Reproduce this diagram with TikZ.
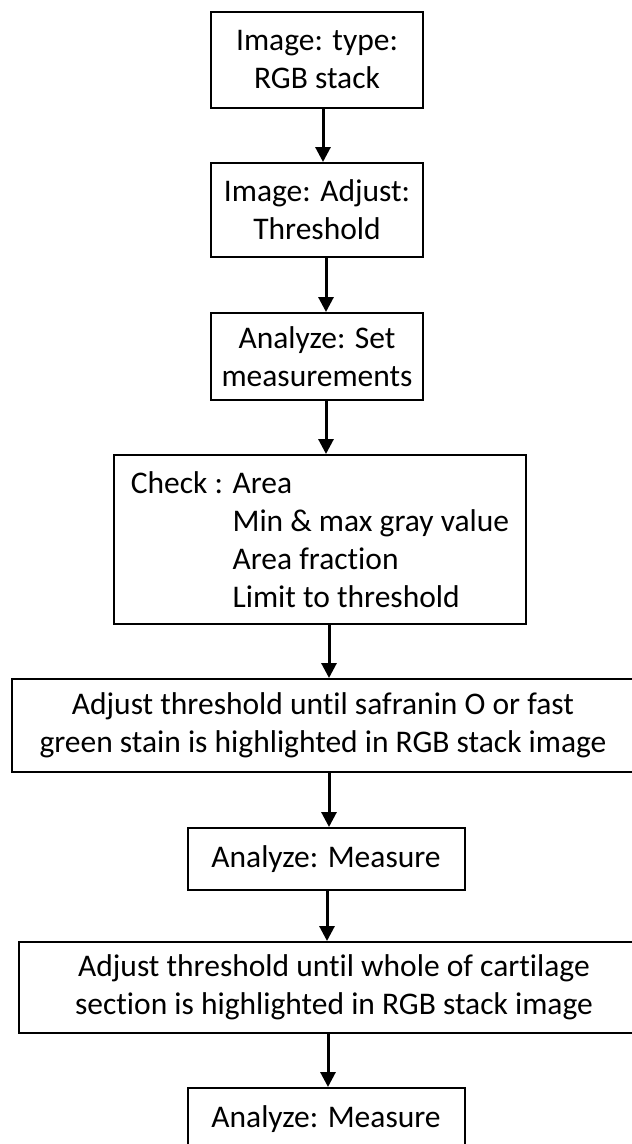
\documentclass[tikz,border=0pt]{standalone}
\usepackage{fontspec}
\setmainfont{Carlito}[Ligatures=NoCommon]
\usetikzlibrary{arrows.meta}

\begin{document}
\begin{tikzpicture}[x=1pt, y=1pt,
            box/.style = {draw, line width=2pt, align=center, inner sep=0pt, font=\fontsize{31.5}{38}\selectfont},
            flow/.style = {line width=3pt, -{Triangle[width=15pt, length=15pt]}},
            ]
            \useasboundingbox (0,0) rectangle (632,-1144);
            \fill[white] (0,0) rectangle (632,-1144);
            \clip (0,0) rectangle (632,-1144);

            \node[box, minimum width=212, minimum height=96]   (B1) at (317, -60)    {Image: type:\\RGB stack};
            \node[box, minimum width=212, minimum height=94]   (B2) at (317, -210)   {Image: Adjust:\\Threshold};
            \node[box, minimum width=212, minimum height=87]   (B3) at (317, -356.5) {Analyze: Set\\measurements};
            \node[box, minimum width=412, minimum height=169, align=left] (B4) at (320, -539.5)
                {Check : Area\\\phantom{Check : }Min \& max gray value\\\phantom{Check : }Area fraction\\\phantom{Check : }Limit to threshold};
            \node[box, minimum width=622, minimum height=93]   (B5) at (323, -725.5)
                {Adjust threshold until safranin O or fast\\green stain is highlighted in RGB stack image};
            \node[box, minimum width=277, minimum height=62]   (B6) at (326, -859)   {Analyze: Measure};
            \node[box, minimum width=630, minimum height=91]   (B7) at (334, -987.5)
                {Adjust threshold until whole of cartilage\\section is highlighted in RGB stack image};
            \node[box, minimum width=277, minimum height=62]   (B8) at (326, -1119)  {Analyze: Measure};

            \draw[flow] ([xshift=6]B1.south) -- ([xshift=6]B1.south |- B2.north);
            \draw[flow] ([xshift=9]B2.south) -- ([xshift=9]B2.south |- B3.north);
            \draw[flow] ([xshift=9]B3.south) -- ([xshift=9]B3.south |- B4.north);
            \draw[flow] ([xshift=9]B4.south) -- ([xshift=9]B4.south |- B5.north);
            \draw[flow] ([xshift=6]B5.south) -- ([xshift=6]B5.south |- B6.north);
            \draw[flow] ([xshift=1]B6.south) -- ([xshift=1]B6.south |- B7.north);
            \draw[flow] ([xshift=2]B8.north |- B7.south) -- ([xshift=2]B8.north);
        \end{tikzpicture}
\end{document}
